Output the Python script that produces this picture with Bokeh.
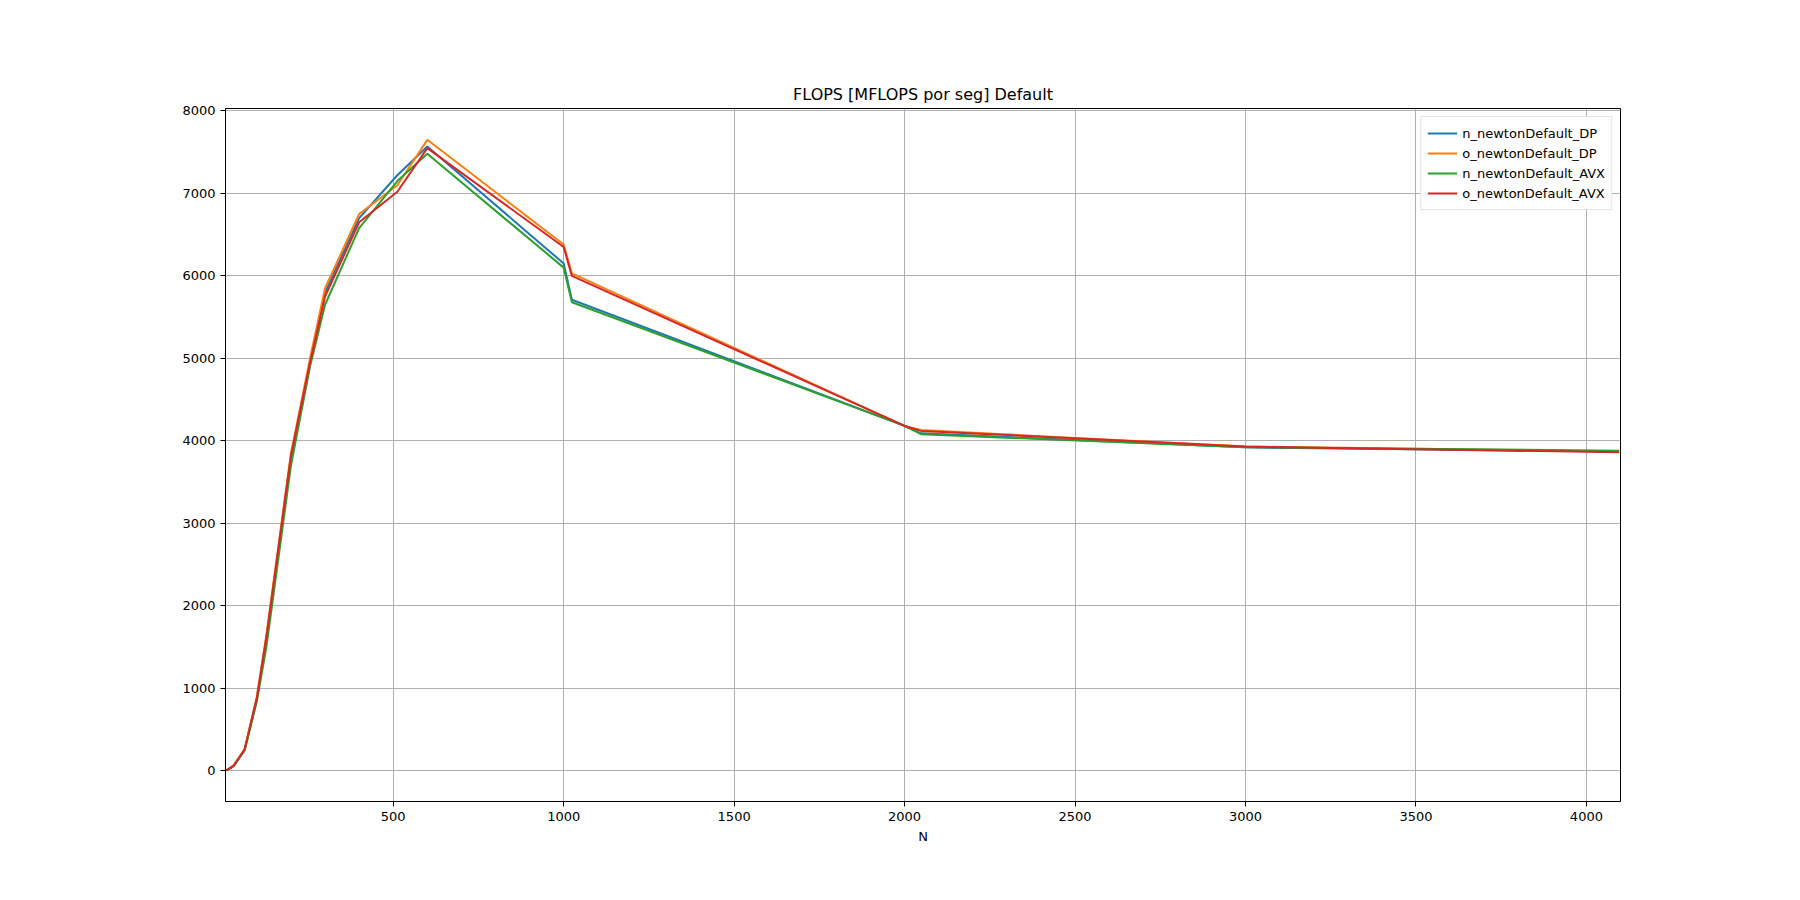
from bokeh.plotting import figure
from bokeh.models import Range1d, Legend, FixedTicker
from bokeh.embed import file_html
from bokeh.resources import INLINE

# problem sizes
N = [8, 16, 32, 64, 100, 128, 200, 256, 300, 400, 512, 600, 1000, 1024, 2000, 2048, 3000, 4096]

n_dp = [2, 15, 60, 250, 870, 1600, 3800, 4950, 5800, 6700, 7220, 7570, 6150, 5710, 4180, 4090, 3920, 3870]
o_dp = [2, 15, 60, 260, 900, 1650, 3850, 5000, 5850, 6750, 7100, 7650, 6380, 6030, 4180, 4130, 3930, 3870]
n_avx = [2, 14, 55, 240, 840, 1500, 3700, 4900, 5650, 6580, 7150, 7480, 6100, 5680, 4180, 4080, 3920, 3880]
o_avx = [2, 15, 60, 255, 880, 1620, 3820, 4950, 5750, 6650, 7020, 7550, 6350, 6000, 4180, 4120, 3930, 3860]

series = [
    ("n_newtonDefault_DP", n_dp, "#1f77b4"),
    ("o_newtonDefault_DP", o_dp, "#ff7f0e"),
    ("n_newtonDefault_AVX", n_avx, "#2ca02c"),
    ("o_newtonDefault_AVX", o_avx, "#d62728"),
]

p = figure(width=1784, height=884, output_backend="svg", toolbar_location=None,
           x_range=Range1d(8, 4100), y_range=Range1d(-375, 8030),
           min_border_left=225, min_border_right=164, min_border_top=108, min_border_bottom=83,
           title="FLOPS [MFLOPS por seg] Default")
p.title.align = "center"
p.title.text_font = "DejaVu Sans"
p.title.text_font_size = "16px"
p.title.text_font_style = "normal"
p.title.text_color = "black"

items = []
for name, ys, col in series:
    r = p.line(N, ys, line_color=col, line_width=2)
    items.append((name, [r]))

legend = Legend(items=items, location="top_right", label_text_font="DejaVu Sans",
                label_text_font_size="13px", label_text_color="black",
                border_line_color="#cccccc",
                border_line_width=1, glyph_width=30, spacing=0, padding=6,
                label_height=16, margin=8)
p.add_layout(legend)

p.xaxis.ticker = FixedTicker(ticks=[500, 1000, 1500, 2000, 2500, 3000, 3500, 4000])
p.yaxis.ticker = FixedTicker(ticks=list(range(0, 8001, 1000)))
p.xaxis.axis_label = "N"
for ax in (p.xaxis, p.yaxis):
    ax.major_label_text_font = "DejaVu Sans"
    ax.major_label_text_font_size = "13px"
    ax.major_label_text_color = "black"
    ax.axis_label_text_font = "DejaVu Sans"
    ax.axis_label_text_font_size = "13px"
    ax.axis_label_text_font_style = "normal"
    ax.axis_label_text_color = "black"
    ax.minor_tick_line_color = None
    ax.major_tick_out = 5
    ax.major_tick_in = 0
    ax.axis_line_color = "black"
p.grid.grid_line_color = "#b0b0b0"
p.grid.grid_line_width = 1
p.outline_line_color = "black"
p.outline_line_width = 1

open("out.html", "w").write(file_html(p, INLINE))
